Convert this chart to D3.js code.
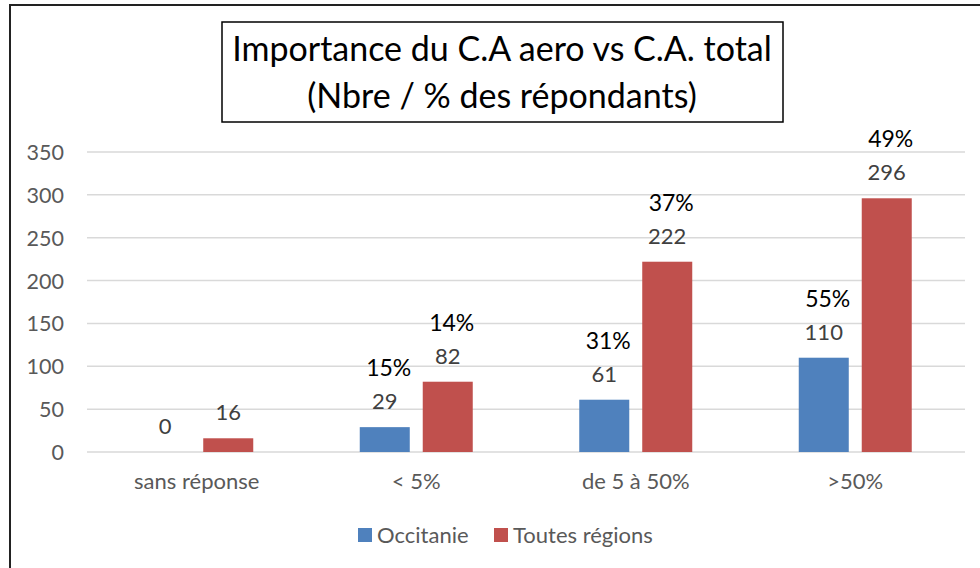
<!DOCTYPE html>
<html>
<head>
<meta charset="utf-8">
<script src="https://cdn.jsdelivr.net/npm/d3@7"></script>
<style>
  body { margin: 0; background: #fff; }
  svg { display: block; font-family: Lato, "Open Sans", sans-serif; }
</style>
</head>
<body>
<div id="chart"></div>
<script>
// data
var categories = ["sans réponse", "< 5%", "de 5 à 50%", ">50%"];
var seriesNames = ["Occitanie", "Toutes régions"];
var occitanie = [0, 29, 61, 110];
var toutesRegions = [16, 82, 222, 296];
var pctOccitanie = ["", "15%", "31%", "55%"];
var pctToutes = ["", "14%", "37%", "49%"];
var yTicks = [0, 50, 100, 150, 200, 250, 300, 350];
var titleLines = ["Importance du C.A aero vs C.A. total", "(Nbre / % des répondants)"];

var colors = { "Occitanie": "#4f81bd", "Toutes régions": "#c0504d" };

var W = 980, H = 568;

var svg = d3.select("#chart")
    .append("svg")
    .attr("width", W)
    .attr("height", H);

// outer frame
svg.append("rect")
    .attr("x", 10).attr("y", 5)
    .attr("width", W + 20).attr("height", H + 20)
    .attr("fill", "none")
    .attr("stroke", "#222")
    .attr("stroke-width", 2);

var x = d3.scaleBand()
    .domain(categories)
    .range([87, 965]);

var bw = x.bandwidth();
var x1 = d3.scaleBand()
    .domain(seriesNames)
    .range([bw / 2 - 56.5, bw / 2 + 56.5])
    .paddingInner(0.206);

var y = d3.scaleLinear()
    .domain([0, 350])
    .range([452, 152]);

// gridlines
svg.append("g")
    .selectAll("line")
    .data(yTicks)
    .enter().append("line")
    .attr("x1", 87).attr("x2", 965)
    .attr("y1", function (d) { return y(d); })
    .attr("y2", function (d) { return y(d); })
    .attr("stroke", "#d9d9d9")
    .attr("stroke-width", 1.5);

// y axis labels
svg.append("g")
    .selectAll("text")
    .data(yTicks)
    .enter().append("text")
    .attr("x", 64)
    .attr("y", function (d) { return y(d) + 8; })
    .attr("text-anchor", "end")
    .attr("fill", "#595959")
    .style("font-size", "21.5px")
    .text(function (d) { return d; });

// category labels
svg.append("g")
    .selectAll("text")
    .data(categories)
    .enter().append("text")
    .attr("x", function (d) { return x(d) + bw / 2; })
    .attr("y", 489)
    .attr("text-anchor", "middle")
    .attr("fill", "#595959")
    .style("font-size", "22px")
    .text(function (d) { return d; });

// build rows
var rows = categories.map(function (c, i) {
    return [
        { cat: c, s: "Occitanie", v: occitanie[i], pct: pctOccitanie[i] },
        { cat: c, s: "Toutes régions", v: toutesRegions[i], pct: pctToutes[i] }
    ];
});

var groups = svg.append("g")
    .selectAll(".grp")
    .data(rows)
    .enter().append("g")
    .attr("class", "grp")
    .attr("transform", function (d) { return "translate(" + x(d[0].cat) + ",0)"; });

groups.selectAll("rect")
    .data(function (d) { return d; })
    .enter().append("rect")
    .attr("x", function (d) { return x1(d.s); })
    .attr("y", function (d) { return y(d.v); })
    .attr("width", x1.bandwidth())
    .attr("height", function (d) { return y(0) - y(d.v); })
    .attr("fill", function (d) { return colors[d.s]; });

// value labels
groups.selectAll(".val")
    .data(function (d) { return d; })
    .enter().append("text")
    .attr("class", "val")
    .attr("x", function (d) { return x1(d.s) + x1.bandwidth() / 2; })
    .attr("y", function (d) { return y(d.v) - 18; })
    .attr("text-anchor", "middle")
    .attr("fill", "#404040")
    .style("font-size", "22px")
    .text(function (d) { return d.v; });

// percent labels
groups.selectAll(".pct")
    .data(function (d) { return d.filter(function (e) { return e.pct !== ""; }); })
    .enter().append("text")
    .attr("class", "pct")
    .attr("x", function (d) { return x1(d.s) + x1.bandwidth() / 2 + 4; })
    .attr("y", function (d) { return y(d.v) - 51; })
    .attr("text-anchor", "middle")
    .attr("fill", "#000")
    .style("font-size", "23px")
    .text(function (d) { return d.pct; });

// title box
svg.append("rect")
    .attr("x", 222).attr("y", 22)
    .attr("width", 561).attr("height", 100)
    .attr("fill", "#fff")
    .attr("stroke", "#000")
    .attr("stroke-width", 1.5);

svg.append("g")
    .selectAll("text")
    .data(titleLines)
    .enter().append("text")
    .attr("x", 502)
    .attr("y", function (d, i) { return 61 + i * 47; })
    .attr("text-anchor", "middle")
    .attr("fill", "#000")
    .style("font-size", "34px")
    .text(function (d) { return d; });

// legend
var legend = svg.append("g")
    .selectAll("g")
    .data(seriesNames)
    .enter().append("g")
    .attr("transform", function (d, i) { return "translate(" + [358, 494][i] + ",528)"; });

legend.append("rect")
    .attr("width", 14).attr("height", 14)
    .attr("fill", function (d) { return colors[d]; });

legend.append("text")
    .attr("x", 19).attr("y", 15)
    .attr("fill", "#595959")
    .style("font-size", "22px")
    .text(function (d) { return d; });
</script>
</body>
</html>
